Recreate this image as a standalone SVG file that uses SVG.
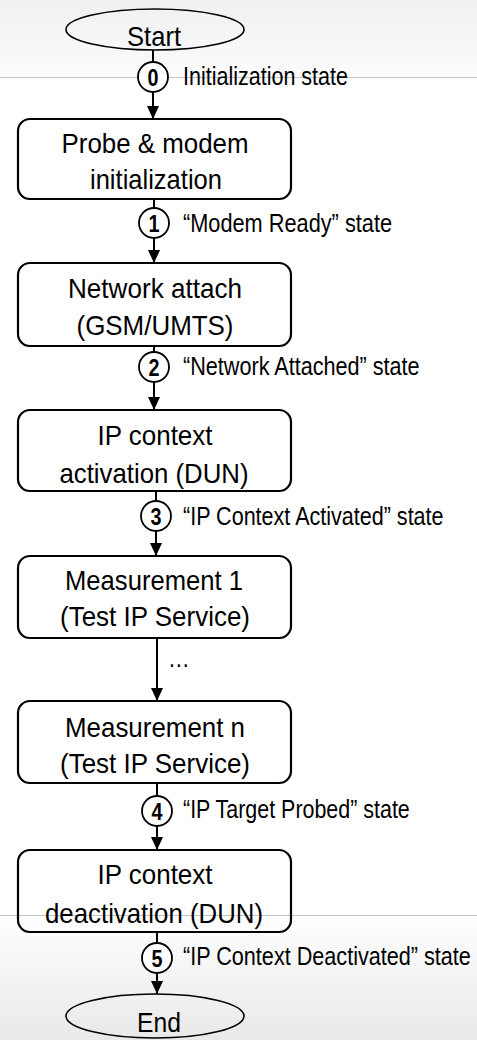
<svg xmlns="http://www.w3.org/2000/svg" width="477" height="1040" viewBox="0 0 477 1040">
<defs>
<linearGradient id="gTop" x1="0" y1="0" x2="0" y2="1"><stop offset="0" stop-color="#f0f0f0"/><stop offset="1" stop-color="#fcfcfc"/></linearGradient>
<linearGradient id="gBot" x1="0" y1="0" x2="0" y2="1"><stop offset="0" stop-color="#fefefe"/><stop offset="1" stop-color="#e9e9e9"/></linearGradient>
<marker id="ah" viewBox="0 0 13 12" refX="13" refY="6" markerWidth="13" markerHeight="12" markerUnits="userSpaceOnUse" orient="auto"><path d="M0,0 L13,6 L0,12 z" fill="#000"/></marker>
<style>
.box{fill:none;stroke:#000;stroke-width:2.2}
.term{fill:none;stroke:#000;stroke-width:1.6}
.circ{fill:#fff;stroke:#000;stroke-width:1.8}
.t{font-family:"Liberation Sans",Arial,sans-serif;font-size:28.5px;fill:#000;text-anchor:middle}
.lb{font-family:"Liberation Sans",Arial,sans-serif;font-size:25.5px;fill:#000}
.d{font-family:"Liberation Sans",Arial,sans-serif;font-size:24px;font-weight:bold;fill:#000;text-anchor:middle}
.c{fill:none;stroke:#000;stroke-width:2}
.ca{fill:none;stroke:#000;stroke-width:2;marker-end:url(#ah)}
</style>
</defs>
<g id="background">
<rect x="0" y="0" width="477" height="1040" fill="#fff"/>
<rect x="0" y="0" width="477" height="77" fill="url(#gTop)"/>
<rect x="0" y="915" width="477" height="125" fill="url(#gBot)"/>
<line x1="0" y1="77.5" x2="477" y2="77.5" stroke="#c4c4c4" stroke-width="1"/>
<line x1="0" y1="915.5" x2="477" y2="915.5" stroke="#c4c4c4" stroke-width="1"/>
</g>
<g id="connectors">
<line class="c" x1="153" y1="50" x2="153" y2="62"/>
<line class="ca" x1="153" y1="92" x2="153" y2="119"/>
<line class="c" x1="154" y1="199" x2="154" y2="208"/>
<line class="ca" x1="154" y1="238" x2="154" y2="263"/>
<line class="c" x1="154" y1="346" x2="154" y2="352"/>
<line class="ca" x1="154" y1="382" x2="154" y2="410"/>
<line class="c" x1="156" y1="491" x2="156" y2="501"/>
<line class="ca" x1="156" y1="531" x2="156" y2="556"/>
<line class="ca" x1="157" y1="638" x2="157" y2="701"/>
<g transform="translate(168,667) scale(0.85,1)"><text class="lb" x="0" y="0">…</text></g>
<line class="c" x1="157" y1="783" x2="157" y2="796"/>
<line class="ca" x1="157" y1="826" x2="157" y2="850"/>
<line class="c" x1="157" y1="932" x2="157" y2="943"/>
<line class="ca" x1="157" y1="973" x2="157" y2="994"/>
</g>
<g id="state0">
<circle class="circ" cx="153" cy="77" r="15"/>
<text class="d" x="153" y="85.5" textLength="11" lengthAdjust="spacingAndGlyphs">0</text>
<g transform="translate(183,85) scale(0.844,1)"><text class="lb" x="0" y="0">Initialization state</text></g>
</g>
<g id="state1">
<circle class="circ" cx="154" cy="223" r="15"/>
<text class="d" x="154" y="231.5" textLength="11" lengthAdjust="spacingAndGlyphs">1</text>
<g transform="translate(183,232) scale(0.853,1)"><text class="lb" x="0" y="0">“Modem Ready” state</text></g>
</g>
<g id="state2">
<circle class="circ" cx="154" cy="367" r="15"/>
<text class="d" x="154" y="375.5" textLength="11" lengthAdjust="spacingAndGlyphs">2</text>
<g transform="translate(183,375) scale(0.848,1)"><text class="lb" x="0" y="0">“Network Attached” state</text></g>
</g>
<g id="state3">
<circle class="circ" cx="156" cy="516" r="15"/>
<text class="d" x="156" y="524.5" textLength="11" lengthAdjust="spacingAndGlyphs">3</text>
<g transform="translate(183,525) scale(0.845,1)"><text class="lb" x="0" y="0">“IP Context Activated” state</text></g>
</g>
<g id="state4">
<circle class="circ" cx="157" cy="811" r="15"/>
<text class="d" x="157" y="819.5" textLength="11" lengthAdjust="spacingAndGlyphs">4</text>
<g transform="translate(183,818) scale(0.841,1)"><text class="lb" x="0" y="0">“IP Target Probed” state</text></g>
</g>
<g id="state5">
<circle class="circ" cx="157" cy="958" r="15"/>
<text class="d" x="157" y="966.5" textLength="11" lengthAdjust="spacingAndGlyphs">5</text>
<g transform="translate(183,965) scale(0.848,1)"><text class="lb" x="0" y="0">“IP Context Deactivated” state</text></g>
</g>
<g id="start">
<ellipse class="term" cx="155" cy="29.5" rx="89" ry="20.5"/>
<text class="t" x="154" y="45.5" font-size="29" textLength="54" lengthAdjust="spacingAndGlyphs">Start</text>
</g>
<g id="probe-init">
<rect class="box" x="18" y="119" width="273" height="80" rx="12"/>
<text class="t" x="155" y="153" textLength="187" lengthAdjust="spacingAndGlyphs">Probe &amp; modem</text>
<text class="t" x="156" y="189" textLength="132" lengthAdjust="spacingAndGlyphs">initialization</text>
</g>
<g id="network-attach">
<rect class="box" x="18" y="263" width="273" height="83" rx="12"/>
<text class="t" x="155" y="298" textLength="174" lengthAdjust="spacingAndGlyphs">Network attach</text>
<text class="t" x="155" y="335" textLength="157" lengthAdjust="spacingAndGlyphs">(GSM/UMTS)</text>
</g>
<g id="ip-activation">
<rect class="box" x="18" y="410" width="273" height="81" rx="12"/>
<text class="t" x="155" y="445" textLength="115" lengthAdjust="spacingAndGlyphs">IP context</text>
<text class="t" x="154" y="483" textLength="189" lengthAdjust="spacingAndGlyphs">activation (DUN)</text>
</g>
<g id="measurement-1">
<rect class="box" x="18" y="556" width="273" height="82" rx="12"/>
<text class="t" x="154" y="590" textLength="178" lengthAdjust="spacingAndGlyphs">Measurement 1</text>
<text class="t" x="155" y="626" textLength="190" lengthAdjust="spacingAndGlyphs">(Test IP Service)</text>
</g>
<g id="measurement-n">
<rect class="box" x="18" y="701" width="273" height="82" rx="12"/>
<text class="t" x="155" y="737" textLength="180" lengthAdjust="spacingAndGlyphs">Measurement n</text>
<text class="t" x="155" y="773" textLength="190" lengthAdjust="spacingAndGlyphs">(Test IP Service)</text>
</g>
<g id="ip-deactivation">
<rect class="box" x="18" y="850" width="273" height="82" rx="12"/>
<text class="t" x="155" y="884" textLength="115" lengthAdjust="spacingAndGlyphs">IP context</text>
<text class="t" x="154" y="923" textLength="218" lengthAdjust="spacingAndGlyphs">deactivation (DUN)</text>
</g>
<g id="end">
<ellipse class="term" cx="155" cy="1016" rx="89" ry="22"/>
<text class="t" x="159" y="1032" font-size="29" textLength="44" lengthAdjust="spacingAndGlyphs">End</text>
</g>
</svg>
